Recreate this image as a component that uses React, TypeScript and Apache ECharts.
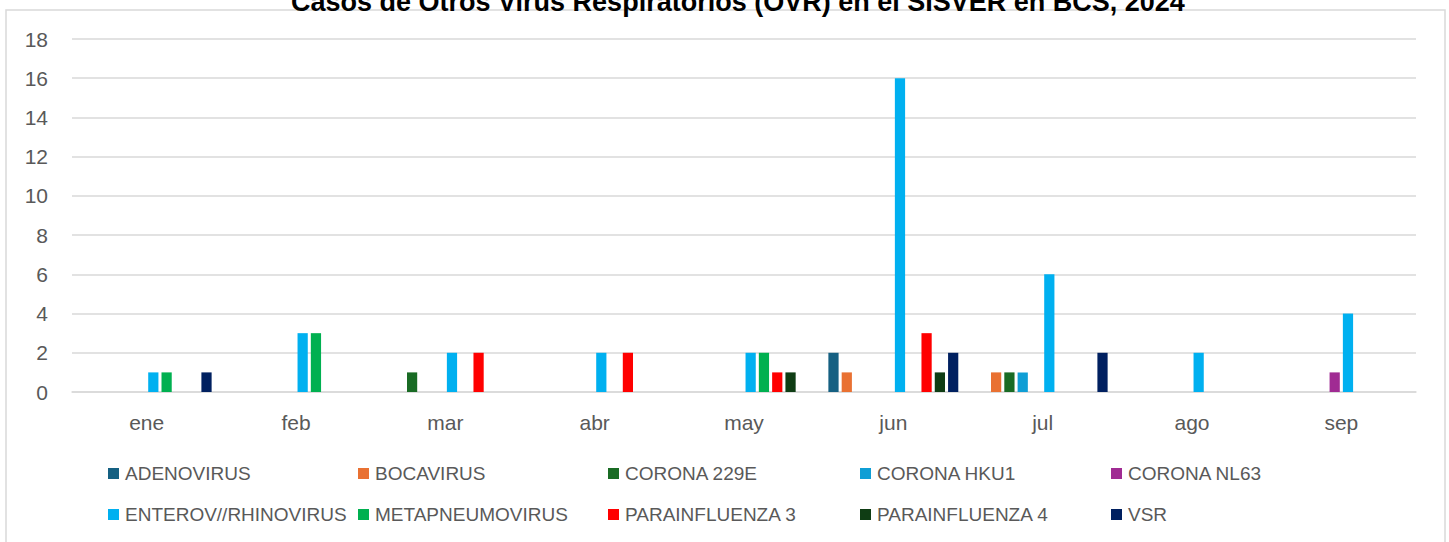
import React, { useEffect, useRef } from "react";
import * as echarts from "echarts";

const months = ["ene", "feb", "mar", "abr", "may", "jun", "jul", "ago", "sep"];
const seriesNames = [
  "ADENOVIRUS",
  "BOCAVIRUS",
  "CORONA 229E",
  "CORONA HKU1",
  "CORONA NL63",
  "ENTEROV//RHINOVIRUS",
  "METAPNEUMOVIRUS",
  "PARAINFLUENZA 3",
  "PARAINFLUENZA 4",
  "VSR",
];
const colors = ["#156082", "#E97132", "#196B24", "#0F9ED5", "#A02B93", "#00B0F0", "#00B050", "#FF0000", "#0F3D14", "#002060"];

const adenovirus = [null, null, null, null, null, 2, null, null, null];
const bocavirus = [null, null, null, null, null, 1, 1, null, null];
const corona229e = [null, null, 1, null, null, null, 1, null, null];
const coronaHku1 = [null, null, null, null, null, null, 1, null, null];
const coronaNl63 = [null, null, null, null, null, null, null, null, 1];
const enterovirus = [1, 3, 2, 2, 2, 16, 6, 2, 4];
const metapneumovirus = [1, 3, null, null, 2, null, null, null, null];
const parainfluenza3 = [null, null, 2, 2, 1, 3, null, null, null];
const parainfluenza4 = [null, null, null, null, 1, 1, null, null, null];
const vsr = [1, null, null, null, null, 2, 2, null, null];

const seriesData = [adenovirus, bocavirus, corona229e, coronaHku1, coronaNl63, enterovirus, metapneumovirus, parainfluenza3, parainfluenza4, vsr];
const yTicks = { min: 0, max: 18, interval: 2 };

const FONT = "'Liberation Sans', Arial, sans-serif";
const legendCols = [108, 358, 608, 860, 1111];
const legendRows = [464, 505];

export default function App() {
  const ref = useRef<HTMLDivElement>(null);
  useEffect(() => {
    if (!ref.current) return;
    const chart = echarts.init(ref.current, null, { renderer: "svg" });
    const legends = seriesNames.map((name, i) => ({
      data: [name],
      left: legendCols[i % 5],
      top: legendRows[Math.floor(i / 5)],
      icon: "rect",
      itemWidth: 11,
      itemHeight: 11,
      itemGap: 5,
      padding: 0,
      selectedMode: false,
      textStyle: { fontFamily: FONT, fontSize: 19, color: "#595959", padding: [0, 0, 0, 1] },
    }));
    chart.setOption({
      animation: false,
      backgroundColor: "#ffffff",
      color: colors,
      title: {
        text: "Casos de Otros Virus Respiratorios (OVR) en el SISVER en BCS, 2024",
        left: 286,
        top: -17,
        z: 10,
        textStyle: { fontFamily: FONT, fontSize: 27, fontWeight: "bold", color: "#000000" },
      },
      graphic: [
        {
          type: "rect",
          z: -1,
          shape: { x: 6, y: 10, width: 1439, height: 545 },
          style: { fill: "none", stroke: "#d9d9d9", lineWidth: 1.5 },
        },
      ],
      legend: legends,
      grid: { left: 72, right: 33, top: 39, bottom: 150, containLabel: false },
      xAxis: {
        type: "category",
        data: months,
        axisLine: { lineStyle: { color: "#d9d9d9", width: 1.5 } },
        axisTick: { show: false },
        axisLabel: { fontFamily: FONT, fontSize: 21, color: "#595959", margin: 20 },
      },
      yAxis: {
        type: "value",
        min: yTicks.min,
        max: yTicks.max,
        interval: yTicks.interval,
        axisLine: { show: false },
        axisTick: { show: false },
        splitLine: { lineStyle: { color: "#d9d9d9", width: 1.5 } },
        axisLabel: { fontFamily: FONT, fontSize: 21, color: "#595959", margin: 24 },
      },
      series: seriesNames.map((name, i) => ({
        name,
        type: "bar",
        data: seriesData[i],
        barGap: "30%",
        barCategoryGap: "13%",
        itemStyle: { color: colors[i] },
      })),
    });
    return () => chart.dispose();
  }, []);
  return (
    <div
      ref={ref}
      style={{ position: "fixed", left: 0, top: 0, width: 1449, height: 542, background: "#fff" }}
    />
  );
}
